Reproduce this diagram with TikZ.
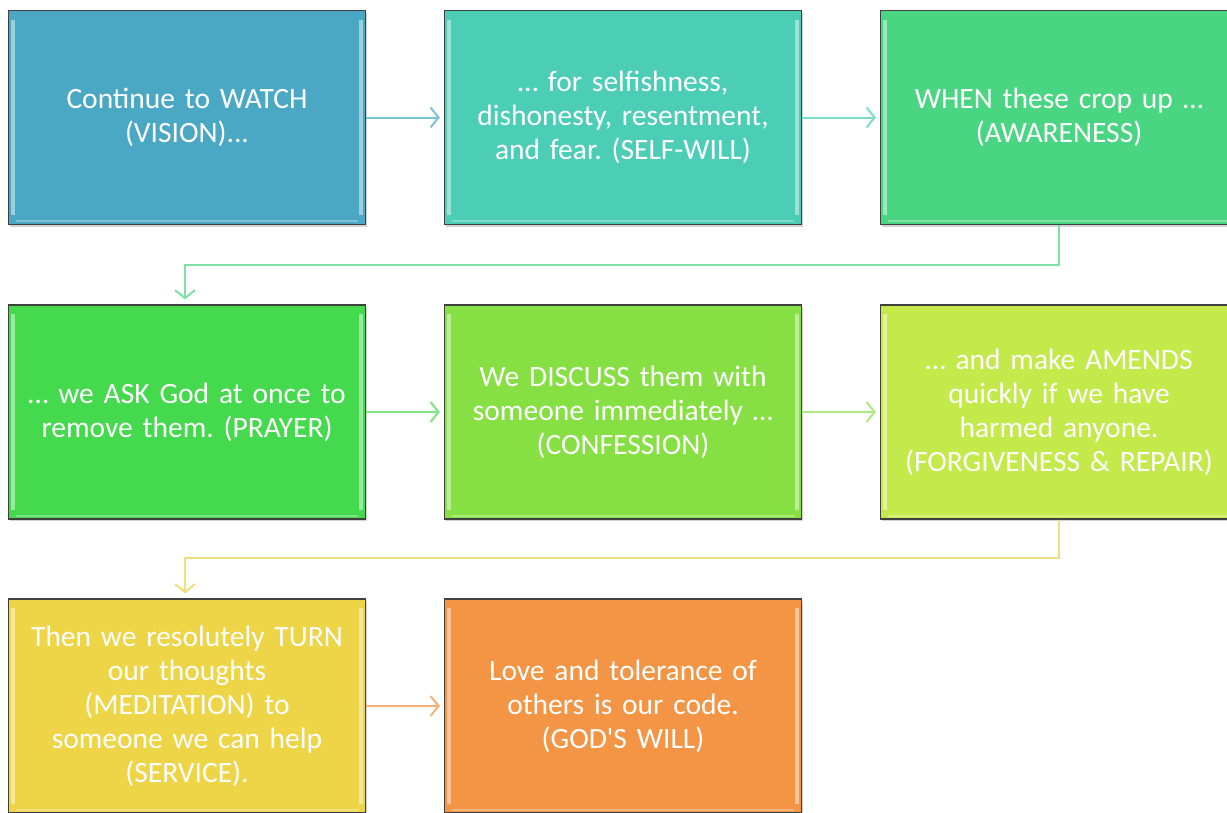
\documentclass[tikz,border=0pt]{standalone}
\usepackage{fontspec}
\setmainfont{Carlito}
\usetikzlibrary{arrows.meta,shadows}
\definecolor{c1}{HTML}{4BA8C4}
\definecolor{c2}{HTML}{4CCDB5}
\definecolor{c3}{HTML}{49D581}
\definecolor{c4}{HTML}{45D94E}
\definecolor{c5}{HTML}{86E043}
\definecolor{c6}{HTML}{C3E94A}
\definecolor{c7}{HTML}{EDD547}
\definecolor{c8}{HTML}{F39545}
\definecolor{a1}{HTML}{7CC3DA}
\definecolor{a2}{HTML}{7ADDCB}
\definecolor{a3}{HTML}{7FE3A6}
\definecolor{a4}{HTML}{7FE585}
\definecolor{a5}{HTML}{ADEB80}
\definecolor{a6}{HTML}{F0DF7A}
\definecolor{a7}{HTML}{F5B07A}
\tikzset{
  stepbox/.style={draw=black!75, line width=1.3pt, minimum width=357pt, minimum height=214pt,
    text width=345pt, align=center, text=white, font=\fontsize{29.5}{34}\selectfont,
    drop shadow={shadow xshift=1.5pt, shadow yshift=-2pt, opacity=0.35}},
  conn/.style={line width=2pt, -{Straight Barb[length=8pt,width=20pt,line width=2pt]}}
}
\newcommand{\bevel}[1]{%
  \draw[white, opacity=0.45, line width=4pt] ([xshift=5pt,yshift=-10pt]#1.north west) -- ([xshift=5pt,yshift=10pt]#1.south west);
  \draw[white, opacity=0.45, line width=4pt] ([xshift=-5pt,yshift=-10pt]#1.north east) -- ([xshift=-5pt,yshift=10pt]#1.south east);
  \draw[white, opacity=0.3, line width=2pt] ([xshift=8pt,yshift=4pt]#1.south west) -- ([xshift=-8pt,yshift=4pt]#1.south east);
}
\begin{document}
\begin{tikzpicture}[x=1pt,y=-1pt]
\frenchspacing
\useasboundingbox (0,0) rectangle (1227,812);
\node[stepbox, fill=c1] (b1) at (187,117.5) {Continue to WATCH\\(VISION)...};
\node[stepbox, fill=c2] (b2) at (623,117.5) {\ldots{} for selfishness,\\dishonesty, resentment,\\and fear. (SELF-WILL)};
\node[stepbox, fill=c3] (b3) at (1059,117.5) {WHEN these crop up \ldots\\(AWARENESS)};
\node[stepbox, fill=c4] (b4) at (187,412) {\ldots{} we ASK God at once to\\remove them. (PRAYER)};
\node[stepbox, fill=c5] (b5) at (623,412) {We DISCUSS them with\\someone immediately \ldots\\(CONFESSION)};
\node[stepbox, fill=c6] (b6) at (1059,412) {\ldots{} and make AMENDS\\quickly if we have\\harmed anyone.\\(FORGIVENESS \& REPAIR)};
\node[stepbox, fill=c7] (b7) at (187,706) {Then we resolutely TURN\\our thoughts\\(MEDITATION) to\\someone we can help\\(SERVICE).};
\node[stepbox, fill=c8] (b8) at (623,706) {Love and tolerance of\\others is our code.\\(GOD\textquotesingle S WILL)};
\foreach \b in {b1,b2,b3,b4,b5,b6,b7,b8} {\bevel{\b}}
\coordinate (k1) at (1059,265);
\coordinate (k2) at (185,265);
\coordinate (k3) at (1059,558);
\coordinate (k4) at (185,558);
\draw[conn, a1] (b1.east) -- ([xshift=-4pt]b2.west);
\draw[conn, a2] (b2.east) -- ([xshift=-4pt]b3.west);
\draw[conn, a3] (b3.south) -- (k1) -- (k2) -- ([yshift=5pt]k2 |- b4.north);
\draw[conn, a4] (b4.east) -- ([xshift=-4pt]b5.west);
\draw[conn, a5] (b5.east) -- ([xshift=-4pt]b6.west);
\draw[conn, a6] (b6.south) -- (k3) -- (k4) -- ([yshift=5pt]k4 |- b7.north);
\draw[conn, a7] (b7.east) -- ([xshift=-4pt]b8.west);
\end{tikzpicture}
\end{document}
